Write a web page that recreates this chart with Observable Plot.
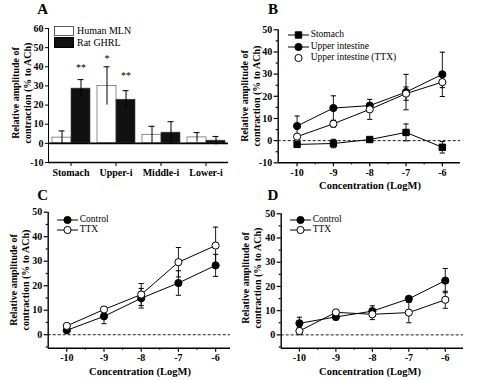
<!DOCTYPE html>
<html><head><meta charset="utf-8">
<script src="https://cdn.jsdelivr.net/npm/d3@7"></script>
<script src="https://cdn.jsdelivr.net/npm/@observablehq/plot@0.6"></script>
<style>
body{margin:0;background:#fff;}
#fig{position:relative;width:500px;height:380px;overflow:hidden;font-family:"Liberation Serif","DejaVu Serif",Times,serif;color:#000;background:#fff;}
.lbl{position:absolute;white-space:nowrap;transform:translate(-50%,-50%);line-height:1;}
.ylab{text-align:center;line-height:11.5px;}
.leg{position:absolute;white-space:nowrap;transform:translateY(-50%);font-size:9.5px;line-height:1;}
</style></head><body><div id="fig"></div>
<script>
// ---------- Panel A data ----------
const catsA = ["Stomach", "Upper-i", "Middle-i", "Lower-i"];
const groupsA = ["Human MLN", "Rat GHRL"];
const humanMLN = [3, 30, 4.5, 3.1];
const humanMLNErr = [3.5, 10, 4.4, 2.5];
const ratGHRL = [28.6, 22.8, 5.6, 1.4];
const ratGHRLErr = [4.7, 4.7, 5.7, 2.2];
const sigCats = ["Stomach", "Upper-i", "Upper-i"];
const sigGroups = ["Rat GHRL", "Human MLN", "Rat GHRL"];
const sigText = ["**", "*", "**"];
const sigY = [39.5, 44, 35.5];
const yTicksA = [-10, 0, 10, 20, 30, 40, 50, 60];

// ---------- Panels B-D data ----------
const conc = [-10, -9, -8, -7, -6];
const concMinor = [-9.5, -8.5, -7.5, -6.5];
const bStomach = [-1.7, -1.3, 0.5, 3.7, -3.0];
const bStomachErr = [0, 1.9, 0.5, 3.8, 2.6];
const bUpper = [6.6, 14.7, 15.8, 21.9, 29.9];
const bUpperErr = [4.5, 5.5, 1.0, 8.0, 10.0];
const bUpperTTX = [1.8, 7.6, 14.1, 21.2, 26.4];
const bUpperTTXErr = [0.8, 1.5, 4.5, 3.0, 2.5];

const cControl = [1.8, 7.5, 14.9, 21.1, 28.3];
const cControlErr = [0.8, 3.0, 4.0, 5.0, 4.5];
const cTTX = [3.6, 10.3, 16.4, 29.6, 36.4];
const cTTXErr = [0.8, 1.0, 4.5, 6.0, 7.5];

const dControl = [4.8, 7.4, 9.8, 14.9, 22.4];
const dControlErr = [2.5, 1.2, 2.2, 1.0, 5.0];
const dTTX = [1.6, 9.3, 8.5, 9.2, 14.5];
const dTTXErr = [1.5, 0.8, 2.2, 4.2, 3.5];

const yMajorB = [-10, 0, 10, 20, 30, 40, 50];
const yMinorB = [-5, 5, 15, 25, 35, 45];
const yMajorCD = [0, 10, 20, 30, 40, 50];
const yMinorCD = [-5, 5, 15, 25, 35, 45];

const yLabel = "Relative amplitude of<br>contraction (% to ACh)";
const xLabel = "Concentration (LogM)";

// ---------- helpers ----------
const SERIF = "\"Liberation Serif\", \"DejaVu Serif\", Times, serif";
const fig = document.getElementById("fig");
const plotStyle = {fontFamily: SERIF, fontSize: "10px", fontWeight: "bold", color: "black", background: "transparent", overflow: "visible"};
const capSymbol = {draw(context, size) { const r = Math.sqrt(size / Math.PI); context.moveTo(-r, 0); context.lineTo(r, 0); }};

function place(node, left, top) {
  node.style.position = "absolute"; node.style.left = left + "px"; node.style.top = top + "px";
  fig.appendChild(node);
}
function label(html, cx, cy, size, weight, rotate, cls) {
  const d = document.createElement("div");
  d.className = "lbl" + (cls ? " " + cls : "");
  d.innerHTML = html;
  d.style.left = cx + "px"; d.style.top = cy + "px";
  d.style.fontSize = size + "px"; d.style.fontWeight = weight;
  if (rotate) d.style.transform = "translate(-50%,-50%) rotate(-90deg)";
  fig.appendChild(d);
}
function legendItem(x, y, symbol, fill, withLine, text) {
  const svg = d3.create("svg").attr("width", 24).attr("height", 12).style("overflow", "visible");
  if (withLine) svg.append("line").attr("x1", 0).attr("x2", 21).attr("y1", 6).attr("y2", 6).attr("stroke", "black").attr("stroke-width", 1);
  const sym = d3.symbol(symbol === "square" ? d3.symbolSquare : d3.symbolCircle, 3.6 * 3.6 * Math.PI);
  svg.append("path").attr("d", sym()).attr("transform", "translate(10.5,6)").attr("fill", fill).attr("stroke", "black").attr("stroke-width", 1);
  place(svg.node(), x, y - 6);
  const t = document.createElement("div");
  t.className = "leg"; t.textContent = text;
  t.style.left = (x + 23) + "px"; t.style.top = y + "px";
  fig.appendChild(t);
}

// ---------- Panel A ----------
const barRows = catsA.flatMap((c, i) => [
  {cat: c, group: groupsA[0], value: humanMLN[i], err: humanMLNErr[i]},
  {cat: c, group: groupsA[1], value: ratGHRL[i], err: ratGHRLErr[i]}
]);
const sigRows = sigText.map((t, i) => ({cat: sigCats[i], group: sigGroups[i], text: t, y: sigY[i]}));
const yDomA = [-10, 60];
const plotA = Plot.plot({
  width: 240, height: 190, marginLeft: 48, marginRight: 12, marginTop: 28, marginBottom: 28,
  style: plotStyle,
  fx: {domain: catsA, padding: 0, label: null, axis: "bottom", tickSize: 4, tickPadding: 2},
  x: {domain: groupsA, axis: null, paddingInner: 0, paddingOuter: 0.18},
  y: {domain: yDomA, ticks: yTicksA, tickFormat: d => String(d), tickSize: 3, tickPadding: 2, line: true, label: null},
  color: {domain: groupsA, range: ["white", "#111"]},
  marks: [
    Plot.ruleY([yDomA[0]], {stroke: "black", strokeWidth: 1.5}),
    Plot.barY(barRows, {fx: "cat", x: "group", y: "value", fill: "group", stroke: "#444", strokeWidth: 0.6}),
    Plot.ruleX(barRows, {fx: "cat", x: "group", y1: d => d.value - d.err, y2: d => d.value + d.err, stroke: "black", strokeWidth: 1}),
    Plot.tickY(barRows, {fx: "cat", x: "group", y: d => d.value + d.err, stroke: "black", strokeWidth: 1, insetLeft: 6.5, insetRight: 6.5}),
    Plot.ruleY([0], {stroke: "black", strokeWidth: 1.6}),
    Plot.text(sigRows, {fx: "cat", x: "group", y: "y", text: "text", fontSize: 10, fontWeight: "normal"})
  ]
});
place(plotA, 0, 0);

// ---------- line panels ----------
function linePanel(cfg) {
  const rows = cfg.series.flatMap(s => conc.map((c, i) => ({series: s.name, x: c, y: s.values[i], e: s.errs[i]})));
  const errRows = rows.filter(d => d.e > 0);
  const caps = errRows.flatMap(d => [{x: d.x, y: d.y + d.e}, {x: d.x, y: d.y - d.e}]);
  return Plot.plot({
    width: cfg.width, height: cfg.height,
    marginLeft: cfg.ml, marginRight: cfg.mr, marginTop: cfg.mt, marginBottom: cfg.mb,
    style: plotStyle,
    x: {domain: cfg.xDomain},
    y: {domain: cfg.yDomain},
    marks: [
      Plot.ruleY([0], {stroke: "black", strokeWidth: 0.9, strokeDasharray: "3,2"}),
      Plot.ruleX(errRows, {x: "x", y1: d => d.y - d.e, y2: d => d.y + d.e, stroke: "black", strokeWidth: 0.9}),
      Plot.dot(caps, {x: "x", y: "y", symbol: capSymbol, r: 2.6, stroke: "black", strokeWidth: 1, fill: "none"}),
      Plot.line(rows, {x: "x", y: "y", z: "series", stroke: "black", strokeWidth: 1}),
      ...cfg.series.map(s => Plot.dot(rows.filter(d => d.series === s.name), {x: "x", y: "y", symbol: s.symbol, r: 3.6, fill: s.fill, stroke: "black", strokeWidth: 1})),
      Plot.axisY({ticks: cfg.yMajor, tickSize: 4, tickPadding: 2, tickFormat: d => String(d), label: null, strokeWidth: 1.2}),
      Plot.axisY({ticks: cfg.yMinor, tickSize: 2, tickFormat: () => "", label: null, strokeWidth: 1.2}),
      Plot.axisX({ticks: conc, tickSize: 4, tickPadding: 2, tickFormat: d => String(d), label: null, strokeWidth: 1.2}),
      Plot.axisX({ticks: concMinor, tickSize: 2, tickFormat: () => "", label: null, strokeWidth: 1.2}),
      Plot.ruleX([cfg.xDomain[0]], {stroke: "black", strokeWidth: 1.4}),
      Plot.ruleY([cfg.yDomain[0]], {stroke: "black", strokeWidth: 1.4})
    ]
  });
}

const plotB = linePanel({
  width: 260, height: 190, ml: 37.7, mr: 40, mt: 29.3, mb: 27.7,
  xDomain: [-10.52, -5.5], yDomain: [-10, 50], yMajor: yMajorB, yMinor: yMinorB,
  series: [
    {name: "Stomach", values: bStomach, errs: bStomachErr, symbol: "square", fill: "black"},
    {name: "Upper intestine", values: bUpper, errs: bUpperErr, symbol: "circle", fill: "black"},
    {name: "Upper intestine (TTX)", values: bUpperTTX, errs: bUpperTTXErr, symbol: "circle", fill: "white"}
  ]
});
place(plotB, 240, 0);

const plotC = linePanel({
  width: 240, height: 190, ml: 47.7, mr: 10, mt: 21.7, mb: 32.3,
  xDomain: [-10.5, -5.6], yDomain: [-5.5, 50], yMajor: yMajorCD, yMinor: yMinorCD,
  series: [
    {name: "Control", values: cControl, errs: cControlErr, symbol: "circle", fill: "black"},
    {name: "TTX", values: cTTX, errs: cTTXErr, symbol: "circle", fill: "white"}
  ]
});
place(plotC, 0, 190);

const plotD = linePanel({
  width: 260, height: 190, ml: 40.7, mr: 37, mt: 23.3, mb: 32.3,
  xDomain: [-10.5, -5.5], yDomain: [-5.5, 50], yMajor: yMajorCD, yMinor: yMinorCD,
  series: [
    {name: "Control", values: dControl, errs: dControlErr, symbol: "circle", fill: "black"},
    {name: "TTX", values: dTTX, errs: dTTXErr, symbol: "circle", fill: "white"}
  ]
});
place(plotD, 240, 190);

// ---------- texts ----------
label("A", 42.7, 9, 15, "bold");
label("B", 273, 9, 15, "bold");
label("C", 42.7, 195, 15, "bold");
label("D", 273, 195, 15, "bold");

label(yLabel, 21, 93, 10, "bold", true, "ylab");
label(yLabel, 249.5, 96, 10, "bold", true, "ylab");
label(yLabel, 19, 280, 10, "bold", true, "ylab");
label(yLabel, 251, 278, 10, "bold", true, "ylab");

label(xLabel, 370, 185.5, 10.5, "bold");
label(xLabel, 140, 371.5, 10.5, "bold");
label(xLabel, 370, 371.5, 10.5, "bold");

// Panel A legend (boxes)
const legA = d3.create("svg").attr("width", 22).attr("height", 24).style("overflow", "visible");
legA.append("rect").attr("x", 0.5).attr("y", 0.5).attr("width", 19).attr("height", 9).attr("fill", "white").attr("stroke", "#333").attr("stroke-width", 0.8);
legA.append("rect").attr("x", 0.5).attr("y", 11.5).attr("width", 19).attr("height", 10).attr("fill", "#111").attr("stroke", "black").attr("stroke-width", 1);
place(legA.node(), 54, 25.5);
[[groupsA[0], 31], [groupsA[1], 43]].forEach(([t, y]) => {
  const d = document.createElement("div");
  d.className = "leg"; d.textContent = t; d.style.left = "77px"; d.style.top = y + "px"; d.style.fontSize = "10px";
  fig.appendChild(d);
});

// Panel B legend
legendItem(287.7, 35, "square", "black", true, "Stomach");
legendItem(287.7, 46.7, "circle", "black", true, "Upper intestine");
legendItem(287.7, 58.3, "circle", "white", false, "Upper intestine (TTX)");
// Panel C legend
legendItem(56.7, 220, "circle", "black", true, "Control");
legendItem(56.7, 230, "circle", "white", true, "TTX");
// Panel D legend
legendItem(289.7, 220, "circle", "black", true, "Control");
legendItem(289.7, 230, "circle", "white", true, "TTX");
</script></body></html>
